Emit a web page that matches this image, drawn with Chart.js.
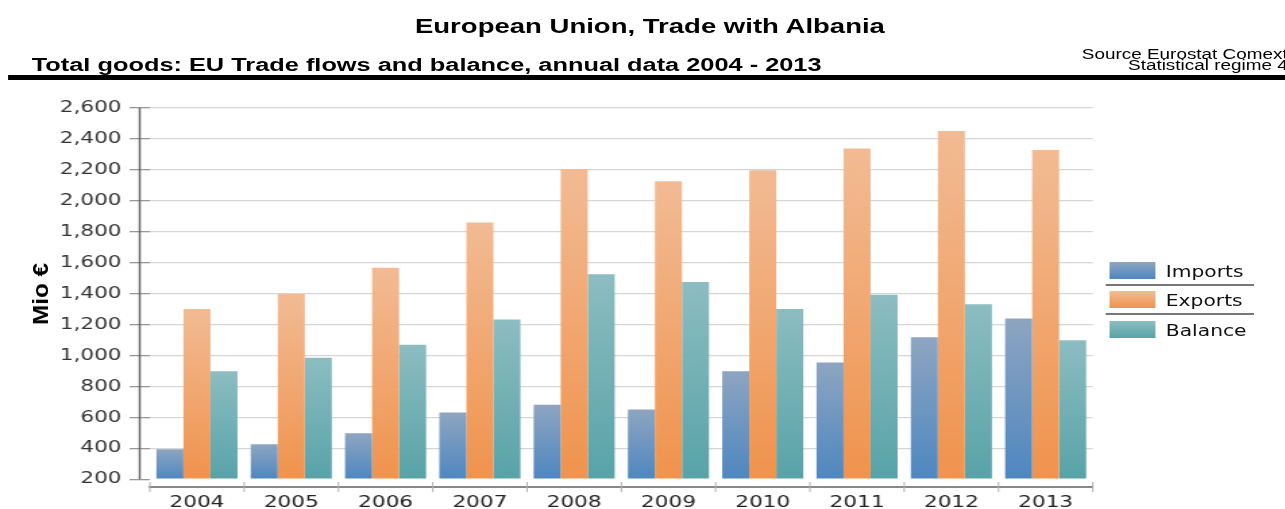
<!DOCTYPE html>
<html>
<head>
<meta charset="utf-8">
<script src="https://cdn.jsdelivr.net/npm/chart.js@4.4.1/dist/chart.umd.min.js"></script>
<style>
    html, body { margin: 0; padding: 0; background: #fff; overflow: hidden; }
    body { width: 1285px; height: 509px; position: relative; }
    /* the reference is stretched sideways, so draw at 952px wide and scale */
    #stage { position: absolute; left: 0; top: 0; width: 952px; height: 509px;
             transform: scaleX(1.3498); transform-origin: 0 0; }
    #stage div { position: absolute; white-space: nowrap; }
    .t { font-family: "Liberation Sans", Arial, sans-serif; color: #000; }
    .legText { font-family: "DejaVu Sans", sans-serif; font-size: 15px; line-height: 17px; color: #111; }
    .box { width: 33.5px; height: 17px; }
    .sep { left: 819px; width: 110px; height: 1.5px; background: #777; }
    canvas { position: absolute; left: 0; top: 0; }
    #ytitle { position: absolute; left: 41px; top: 294px; white-space: nowrap;
              font-family: "Liberation Sans", Arial, sans-serif; font-weight: bold; font-size: 22px; line-height: 22px;
              transform: translate(-50%, -50%) rotate(-90deg) scaleX(1.1); }
</style>
</head>
<body>
<div id="stage">
    <div class="t" style="left:481.5px; top:15.6px; transform:translateX(-50%); font-size:20.4px; line-height:20px; font-weight:bold;">European Union, Trade with Albania</div>
    <div class="t" style="left:23.5px; top:55.8px; font-size:18.8px; line-height:17px; font-weight:bold;">Total goods: EU Trade flows and balance, annual data 2004 - 2013</div>
    <div class="t" style="right:-2px; top:47.5px; font-size:14px; line-height:13px; text-align:right;">Source Eurostat Comext</div>
    <div class="t" style="right:-2px; top:59.3px; font-size:14px; line-height:13px; text-align:right;">Statistical regime 4</div>
    <div style="left:6.2px; right:-5px; top:74.5px; height:5px; background:#000;"></div>

    <canvas id="chart" width="952" height="509" style="width:952px;height:509px;"></canvas>

    <div id="legend"></div>
</div>
<div id="ytitle">Mio €</div>

<script>
const years = ['2004', '2005', '2006', '2007', '2008', '2009', '2010', '2011', '2012', '2013'];
const imports = [394, 426, 497, 631, 681, 651, 899, 955, 1118, 1239];
const exportsEU = [1300, 1397, 1567, 1860, 2205, 2127, 2197, 2339, 2451, 2328];
const balance = [899, 985, 1069, 1233, 1526, 1476, 1300, 1392, 1332, 1099];
const yTickValues = [200, 400, 600, 800, 1000, 1200, 1400, 1600, 1800, 2000, 2200, 2400, 2600];

const seriesNames = ['Imports', 'Exports', 'Balance'];
const seriesColors = [
    ['#8ea5c1', '#4e87c0'],
    ['#f2bb94', '#f0934d'],
    ['#8cbdc1', '#58a3a8']
];
const barBase = 200;

Chart.defaults.font.family = '"DejaVu Sans", sans-serif';

function barFill(colors) {
    return ctx => {
        const chart = ctx.chart;
        const y = chart.scales.y;
        if (!y || ctx.type !== 'data' || !ctx.parsed) return colors[1];
        const top = y.getPixelForValue(ctx.parsed.y);
        const bottom = y.getPixelForValue(barBase);
        if (!isFinite(top) || !isFinite(bottom)) return colors[1];
        const g = chart.ctx.createLinearGradient(0, top, 0, bottom);
        g.addColorStop(0, colors[0]);
        g.addColorStop(1, colors[1]);
        return g;
    };
}

// value axis line sits a little left of the plot; category ticks cross the x axis
const axisMarks = {
    id: 'axisMarks',
    afterDraw(chart) {
        const y = chart.scales.y, x = chart.scales.x, ctx = chart.ctx;
        const ax = chart.chartArea.left - 7.5;
        ctx.save();
        ctx.strokeStyle = '#666';
        ctx.lineWidth = 1.5;
        ctx.beginPath();
        ctx.moveTo(ax, y.getPixelForValue(yTickValues[yTickValues.length - 1]));
        ctx.lineTo(ax, y.getPixelForValue(yTickValues[0]));
        ctx.stroke();

        const n = years.length;
        const step = (x.right - x.left) / n;
        const by = chart.chartArea.bottom;
        ctx.strokeStyle = '#b0b0b0';
        ctx.lineWidth = 1;
        ctx.beginPath();
        for (let i = 0; i <= n; i++) {
            const bx = x.left + i * step;
            ctx.moveTo(bx, by - 5);
            ctx.lineTo(bx, by + 5);
        }
        ctx.stroke();
        ctx.restore();
    }
};

const seriesData = [imports, exportsEU, balance];

new Chart(document.getElementById('chart'), {
    type: 'bar',
    data: {
        labels: years,
        datasets: seriesNames.map((name, i) => ({
            label: name,
            data: seriesData[i],
            base: barBase,
            backgroundColor: barFill(seriesColors[i]),
            borderWidth: 0,
            categoryPercentage: 0.86,
            barPercentage: 1.0
        }))
    },
    options: {
        responsive: false,
        animation: false,
        layout: { padding: { left: 0, right: 142.4, top: 108, bottom: 0 } },
        plugins: { legend: { display: false }, tooltip: { enabled: false } },
        scales: {
            x: {
                afterFit(scale) { scale.height = 22; },
                grid: { display: true, drawOnChartArea: false, drawTicks: false, tickLength: 6 },
                border: { display: true, color: '#888', width: 2 },
                ticks: { color: '#222', font: { size: 16 }, padding: 6 }
            },
            y: {
                min: 150,
                max: 2600,
                afterFit(scale) { scale.width = 111; },
                afterBuildTicks(scale) { scale.ticks = yTickValues.map(v => ({ value: v })); },
                grid: {
                    color: c => (c.tick && c.tick.value === barBase) ? 'rgba(0,0,0,0)' : '#d6d6d6',
                    lineWidth: 1.3,
                    tickLength: 15,
                    tickColor: '#999'
                },
                border: { display: false },
                ticks: {
                    color: '#333',
                    font: { size: 16 },
                    padding: 6,
                    callback: v => v.toLocaleString('en-US')
                }
            }
        }
    },
    plugins: [axisMarks]
});

// legend with separator lines between entries
const legend = document.getElementById('legend');
const boxTops = [261.7, 290.7, 320.7];
seriesNames.forEach((name, i) => {
    const box = document.createElement('div');
    box.className = 'box';
    box.style.left = '822px';
    box.style.top = boxTops[i] + 'px';
    box.style.background = `linear-gradient(to bottom, ${seriesColors[i][0]}, ${seriesColors[i][1]})`;
    legend.appendChild(box);
    const txt = document.createElement('div');
    txt.className = 'legText';
    txt.style.left = '863.7px';
    txt.style.top = (boxTops[i] + 2.3) + 'px';
    txt.textContent = name;
    legend.appendChild(txt);
    if (i < seriesNames.length - 1) {
        const sep = document.createElement('div');
        sep.className = 'sep';
        sep.style.top = (boxTops[i] + 22.6) + 'px';
        legend.appendChild(sep);
    }
});
</script>
</body>
</html>
